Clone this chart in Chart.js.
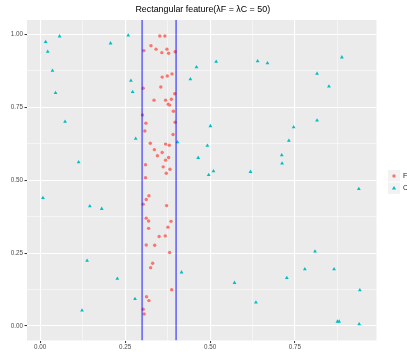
<!DOCTYPE html>
<html>
<head>
<meta charset="utf-8">
<script src="https://cdn.jsdelivr.net/npm/chart.js@4.4.0/dist/chart.umd.min.js"></script>
<style>
  html, body { margin: 0; padding: 0; background: #fff; overflow: hidden; }
  #wrap { width: 407px; height: 354px; }
</style>
</head>
<body>
<div id="wrap"><canvas id="rectChart" width="407" height="354"></canvas></div>
<script>
// Rectangular feature scatter - F points inside the band, C points everywhere

const chartTitle = "Rectangular feature(\u03bbF = \u03bbC = 50)";

// class F (red circles)
const fX = [0.352, 0.367, 0.326, 0.305, 0.341, 0.373, 0.358, 0.378, 0.397, 0.388,
  0.359, 0.374, 0.303, 0.355, 0.396, 0.335, 0.369, 0.386, 0.377, 0.381,
  0.392, 0.301, 0.311, 0.397, 0.308, 0.391, 0.324, 0.369, 0.380, 0.336,
  0.359, 0.345, 0.378, 0.369, 0.310, 0.362, 0.382, 0.371, 0.310, 0.320,
  0.312, 0.303, 0.372, 0.312, 0.319, 0.385, 0.376, 0.319, 0.350, 0.368,
  0.312, 0.337, 0.381, 0.331, 0.325, 0.387, 0.313, 0.320, 0.303, 0.306];
const fY = [0.995, 0.995, 0.962, 0.945, 0.950, 0.950, 0.938, 0.936, 0.941, 0.865,
  0.854, 0.858, 0.816, 0.820, 0.797, 0.775, 0.775, 0.778, 0.761, 0.758,
  0.737, 0.724, 0.696, 0.699, 0.669, 0.657, 0.627, 0.624, 0.620, 0.605,
  0.595, 0.584, 0.578, 0.569, 0.553, 0.546, 0.538, 0.524, 0.509, 0.447,
  0.434, 0.418, 0.413, 0.370, 0.360, 0.359, 0.339, 0.335, 0.307, 0.309,
  0.278, 0.277, 0.252, 0.215, 0.200, 0.124, 0.100, 0.087, 0.057, 0.041];

// class C (teal triangles)
const cX = [0.016, 0.057, 0.022, 0.036, 0.045, 0.073, 0.113, 0.207, 0.259, 0.267,
  0.272, 0.281, 0.460, 0.442, 0.404, 0.492, 0.465, 0.496, 0.518, 0.640,
  0.669, 0.888, 0.815, 0.850, 0.501, 0.815, 0.746, 0.732, 0.711, 0.712,
  0.510, 0.619, 0.938, 0.008, 0.146, 0.181, 0.138, 0.227, 0.279, 0.123,
  0.416, 0.809, 0.779, 0.865, 0.726, 0.572, 0.941, 0.635, 0.875, 0.880,
  0.939];
const cY = [0.975, 0.994, 0.941, 0.876, 0.800, 0.701, 0.562, 0.970, 0.997, 0.842,
  0.803, 0.643, 0.888, 0.847, 0.631, 0.619, 0.577, 0.518, 0.907, 0.909,
  0.902, 0.922, 0.866, 0.822, 0.686, 0.705, 0.682, 0.636, 0.586, 0.558,
  0.531, 0.529, 0.470, 0.439, 0.411, 0.402, 0.224, 0.162, 0.093, 0.053,
  0.184, 0.256, 0.195, 0.195, 0.165, 0.148, 0.123, 0.081, 0.015, 0.015,
  0.006];

// band edges (vertical lines)
const cutoffs = [0.3, 0.4];

// axis ranges (ggplot style expansion)
const xRange = [-0.039, 0.99];
const yRange = [-0.05, 1.05];

const RED = "#F8766D";
const TEAL = "#00BFC4";
const FONT = "'Liberation Sans', Arial, sans-serif";

function toPoints(xs, ys) {
  return xs.map((x, i) => ({ x: x, y: ys[i] }));
}

function isMajor(v) {
  return Math.abs(v * 4 - Math.round(v * 4)) < 1e-6;
}

const cutoffSets = cutoffs.map((c) => ({
  label: "cut",
  data: [{ x: c, y: yRange[0] }, { x: c, y: yRange[1] }],
  showLine: true,
  borderColor: "rgba(0, 0, 255, 0.5)",
  borderWidth: 1.8,
  pointRadius: 0,
  order: 0,
}));

// panel background
const panelBg = {
  id: "panelBg",
  beforeDraw(chart) {
    const a = chart.chartArea;
    const ctx = chart.ctx;
    ctx.save();
    ctx.fillStyle = "#EBEBEB";
    ctx.fillRect(a.left, a.top, a.right - a.left, a.bottom - a.top);
    ctx.restore();
  },
};

// title + legend drawn like ggplot
const extras = {
  id: "extras",
  afterDraw(chart) {
    const a = chart.chartArea;
    const ctx = chart.ctx;
    ctx.save();
    ctx.fillStyle = "#000";
    ctx.font = "8.9px " + FONT;
    ctx.textAlign = "center";
    ctx.textBaseline = "middle";
    ctx.fillText(chartTitle, (a.left + a.right) / 2 + 1, 10);

    // legend keys
    ctx.fillStyle = "#F2F2F2";
    ctx.fillRect(388, 170, 12, 24);
    ctx.strokeStyle = "#fff";
    ctx.lineWidth = 1;
    ctx.beginPath();
    ctx.moveTo(388, 182);
    ctx.lineTo(400, 182);
    ctx.stroke();

    ctx.fillStyle = RED;
    ctx.beginPath();
    ctx.arc(394, 176, 1.7, 0, Math.PI * 2);
    ctx.fill();
    ctx.fillStyle = TEAL;
    ctx.beginPath();
    ctx.moveTo(394, 186);
    ctx.lineTo(396.1, 189.6);
    ctx.lineTo(391.9, 189.6);
    ctx.closePath();
    ctx.fill();

    ctx.fillStyle = "#1A1A1A";
    ctx.font = "7px " + FONT;
    ctx.textAlign = "left";
    ctx.fillText("F", 403, 176);
    ctx.fillText("C", 403, 188);
    ctx.restore();
  },
};

const axisTicks = {
  stepSize: 0.125,
  autoSkip: false,
  includeBounds: false,
  color: "#4D4D4D",
  font: { family: FONT, size: 6.3 },
  callback: function (value) {
    return isMajor(value) ? value.toFixed(2) : "";
  },
};

const axisGrid = {
  color: "#FFFFFF",
  lineWidth: (ctx) => (ctx.tick && isMajor(ctx.tick.value) ? 1.1 : 0.5),
  drawTicks: true,
  tickLength: 2.5,
  tickWidth: 1,
  tickColor: (ctx) => (ctx.tick && isMajor(ctx.tick.value) ? "#333333" : "rgba(0,0,0,0)"),
};

new Chart(document.getElementById("rectChart"), {
  type: "scatter",
  data: {
    datasets: [
      ...cutoffSets,
      {
        label: "F",
        data: toPoints(fX, fY),
        backgroundColor: RED,
        borderWidth: 0,
        pointRadius: 1.7,
        pointStyle: "circle",
        order: 2,
      },
      {
        label: "C",
        data: toPoints(cX, cY),
        backgroundColor: TEAL,
        borderWidth: 0,
        pointRadius: 2.2,
        pointStyle: "triangle",
        order: 1,
      },
    ],
  },
  options: {
    responsive: false,
    animation: false,
    devicePixelRatio: 1,
    layout: { padding: { top: 20, right: 30.5, bottom: 0, left: 0 } },
    plugins: {
      legend: { display: false },
      title: { display: false },
      tooltip: { enabled: false },
    },
    scales: {
      x: {
        type: "linear",
        min: xRange[0],
        max: xRange[1],
        border: { display: false },
        grid: axisGrid,
        ticks: Object.assign({}, axisTicks, { padding: 0.5, maxRotation: 0 }),
        afterFit: function (scale) {
          scale.height = 13.5;
        },
      },
      y: {
        type: "linear",
        min: yRange[0],
        max: yRange[1],
        border: { display: false },
        grid: axisGrid,
        ticks: Object.assign({}, axisTicks, { padding: 1.5 }),
        afterFit: function (scale) {
          scale.width = 27;
        },
      },
    },
  },
  plugins: [panelBg, extras],
});
</script>
</body>
</html>
